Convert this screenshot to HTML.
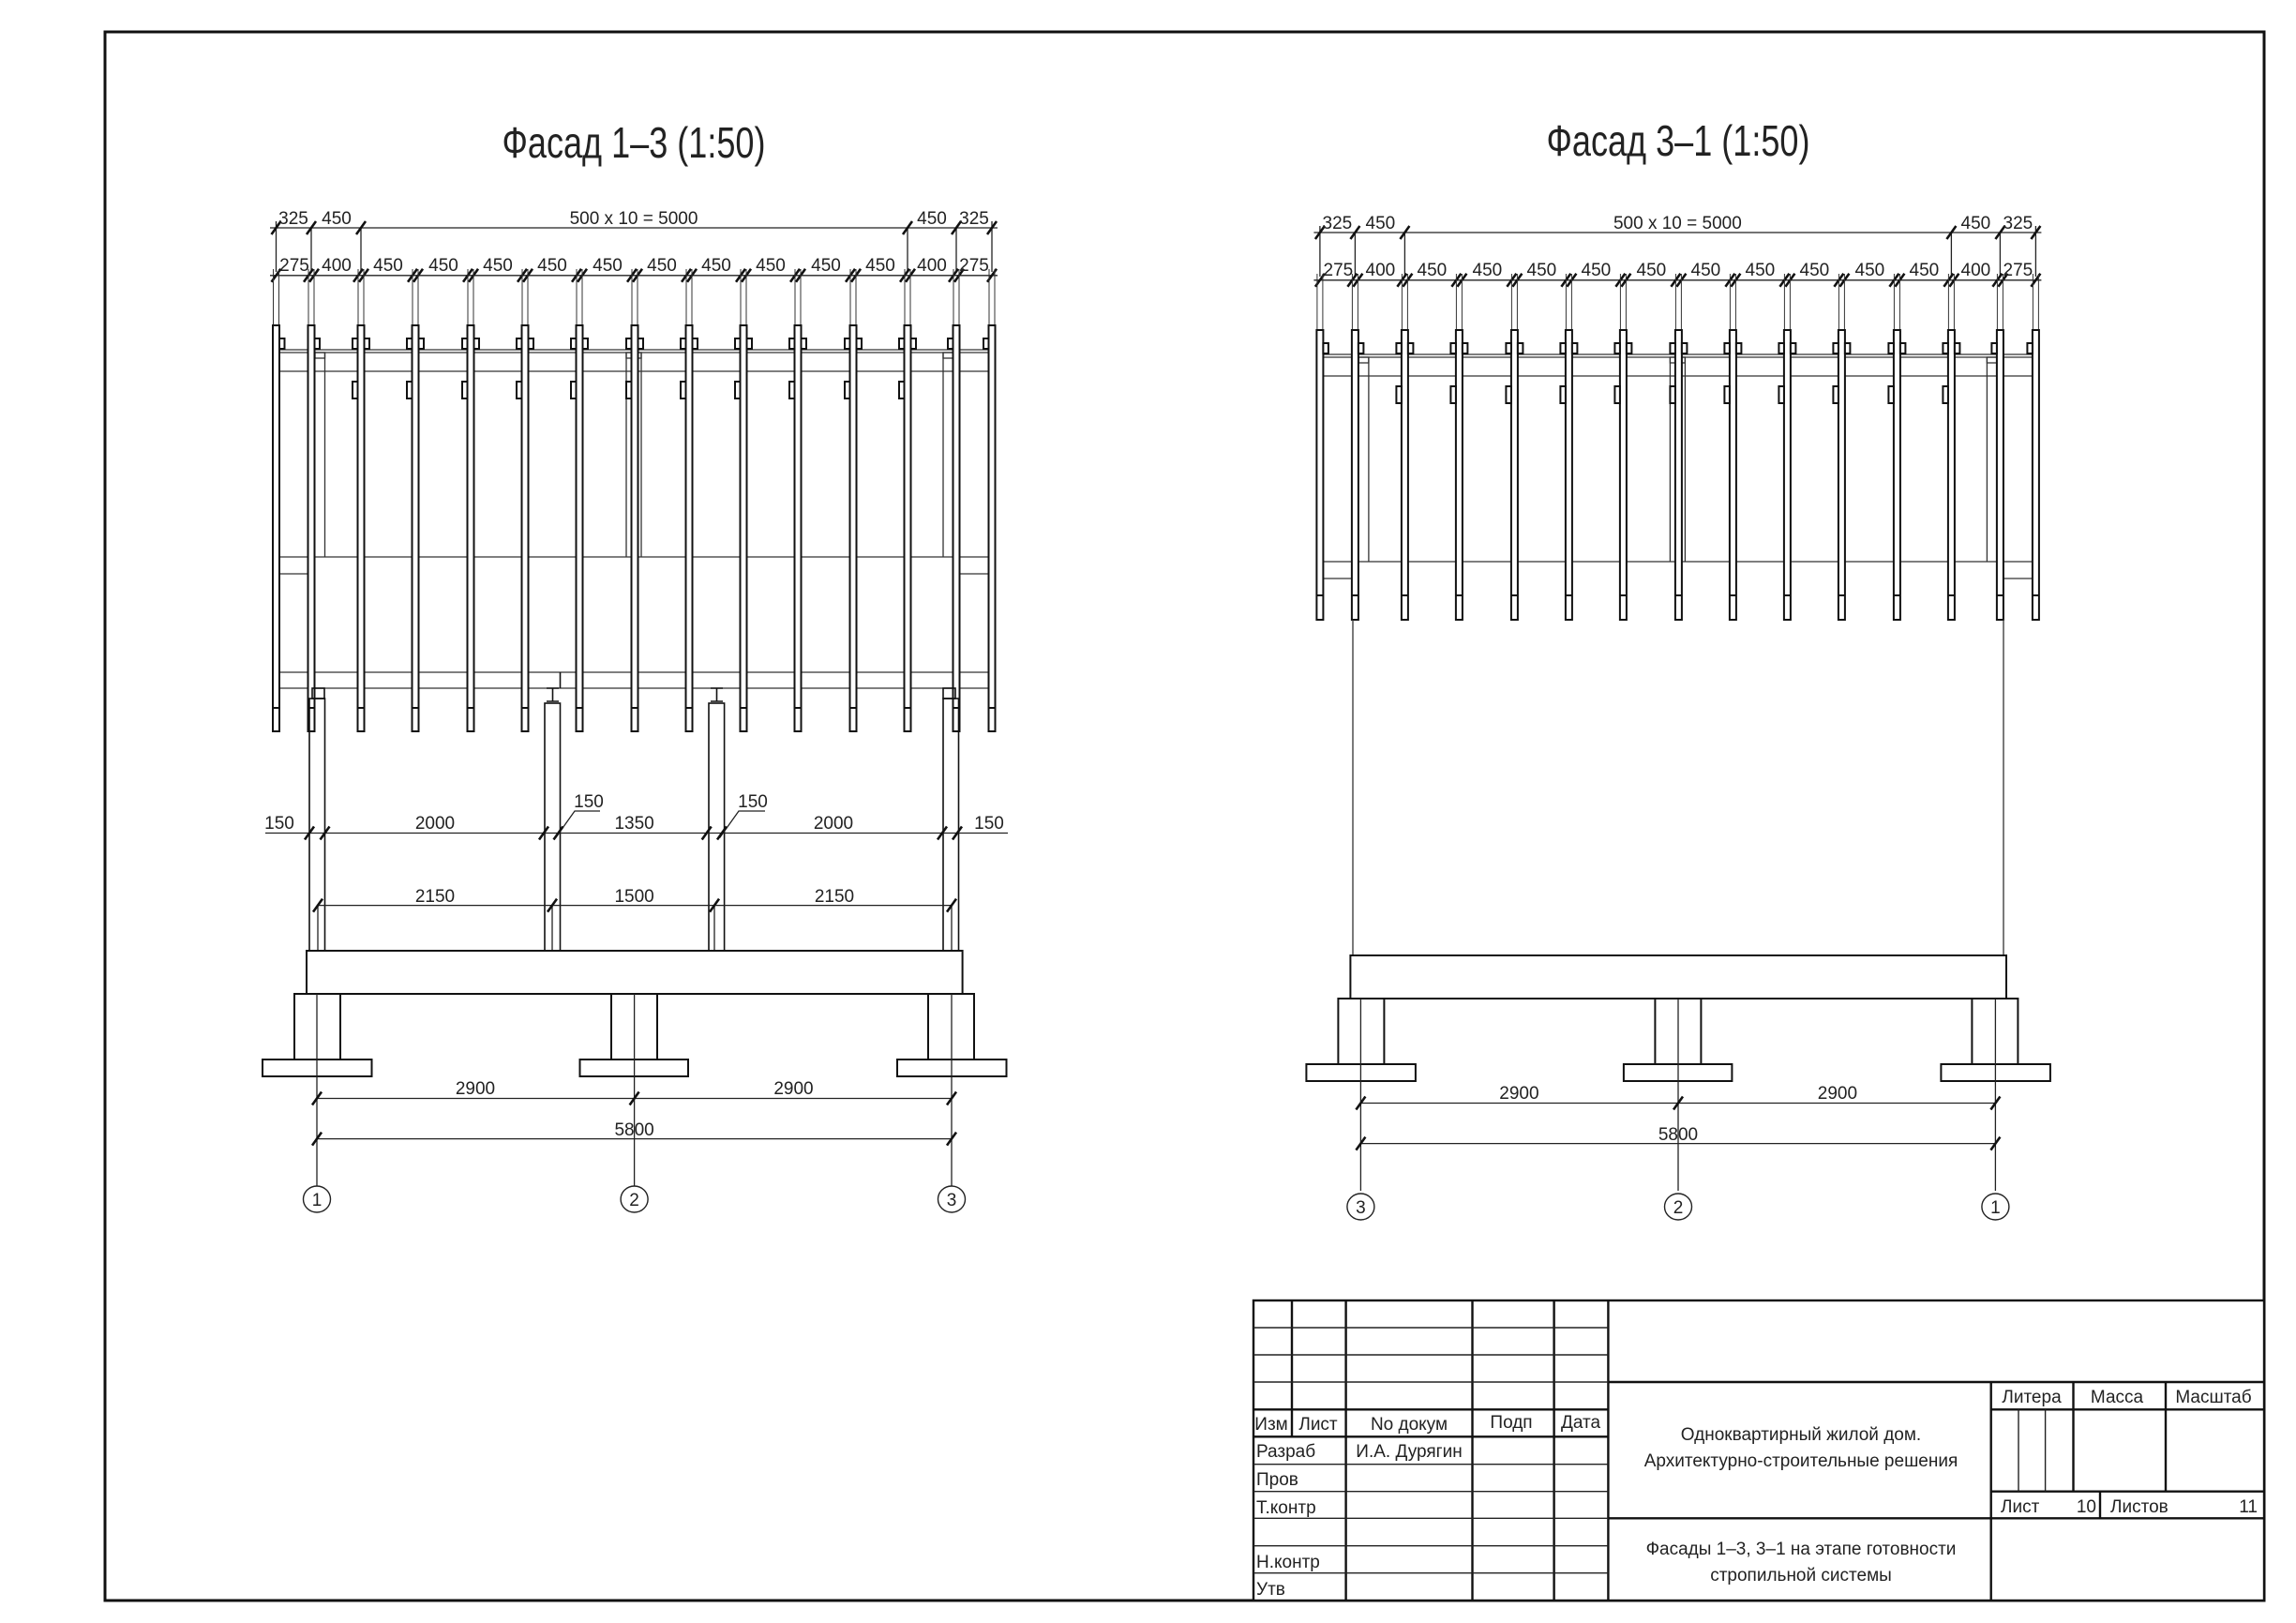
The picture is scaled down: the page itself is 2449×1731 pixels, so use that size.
<!DOCTYPE html>
<html><head><meta charset="utf-8"><style>
html,body{margin:0;padding:0;background:#fff}
svg{display:block}
text{font-family:"Liberation Sans Narrow","Liberation Sans",sans-serif;fill:#222}
</style></head><body>
<svg width="2449" height="1731" viewBox="0 0 2449 1731" xmlns="http://www.w3.org/2000/svg">
<defs>
<path id="tk" d="M-5,7 L5,-7" stroke="#111" stroke-width="2.6" fill="none"/>
<g id="ext" stroke="#333" stroke-width="1" fill="none"><line x1="-3" y1="287" x2="-3" y2="347"/><line x1="3" y1="287" x2="3" y2="347"/></g>
<rect id="bR" x="3.5" y="361" width="5.5" height="11" fill="#fff" stroke="#111" stroke-width="2"/>
<rect id="bL" x="-9" y="361" width="5.5" height="11" fill="#fff" stroke="#111" stroke-width="2"/>
<rect id="lr" x="-9" y="407" width="5.5" height="18" fill="#fff" stroke="#111" stroke-width="2"/>
<g id="rl" stroke="#111" stroke-width="2" fill="#fff"><rect x="-3.5" y="347" width="7" height="433"/><line x1="-3.5" y1="755" x2="3.5" y2="755"/></g>
<g id="rr" stroke="#111" stroke-width="2" fill="#fff"><rect x="-3.5" y="347" width="7" height="309"/><line x1="-3.5" y1="630" x2="3.5" y2="630"/></g>

<g id="roof">
 <g stroke="#333" stroke-width="1.3" fill="none">
  <line x1="291" y1="373" x2="1062" y2="373"/>
  <line x1="291" y1="376" x2="1062" y2="376"/>
  <line x1="291" y1="396" x2="1062" y2="396"/>
  <line x1="291" y1="594" x2="1062" y2="594"/>
  <line x1="298" y1="612" x2="330" y2="612"/>
  <line x1="1024" y1="612" x2="1056" y2="612"/>
  <line x1="346.5" y1="376" x2="346.5" y2="594"/>
  <line x1="668" y1="376" x2="668" y2="594"/>
  <line x1="684" y1="376" x2="684" y2="594"/>
  <line x1="1006" y1="376" x2="1006" y2="594"/>
  <rect x="336" y="376" width="10.5" height="6"/>
  <rect x="1006" y="376" width="10.5" height="6"/>
  <rect x="668" y="376" width="16" height="6"/>
 </g>
 <g stroke="#222" stroke-width="1.3">
  <line x1="288" y1="243" x2="1064" y2="243"/>
  <line x1="288" y1="293.8" x2="1064" y2="293.8"/>
  <line x1="332" y1="243" x2="332" y2="290"/>
  <line x1="385" y1="243" x2="385" y2="290"/>
  <line x1="968" y1="243" x2="968" y2="290"/>
  <line x1="1020" y1="243" x2="1020" y2="290"/>
  <line x1="294.5" y1="236" x2="294.5" y2="290"/>
  <line x1="1058" y1="236" x2="1058" y2="290"/>
 </g>
 <g>
  <use href="#tk" x="294.5" y="243"/><use href="#tk" x="332" y="243"/><use href="#tk" x="385" y="243"/>
  <use href="#tk" x="968" y="243"/><use href="#tk" x="1020" y="243"/><use href="#tk" x="1058" y="243"/>
  <use href="#tk" x="294.5" y="293.8"/>
  <use href="#tk" x="329" y="293.8"/><use href="#tk" x="335" y="293.8"/>
  <use href="#tk" x="382" y="293.8"/><use href="#tk" x="388" y="293.8"/>
  <use href="#tk" x="440" y="293.8"/><use href="#tk" x="446" y="293.8"/>
  <use href="#tk" x="499" y="293.8"/><use href="#tk" x="505" y="293.8"/>
  <use href="#tk" x="557" y="293.8"/><use href="#tk" x="563" y="293.8"/>
  <use href="#tk" x="615" y="293.8"/><use href="#tk" x="621" y="293.8"/>
  <use href="#tk" x="674" y="293.8"/><use href="#tk" x="680" y="293.8"/>
  <use href="#tk" x="732" y="293.8"/><use href="#tk" x="738" y="293.8"/>
  <use href="#tk" x="790" y="293.8"/><use href="#tk" x="796" y="293.8"/>
  <use href="#tk" x="848" y="293.8"/><use href="#tk" x="854" y="293.8"/>
  <use href="#tk" x="907" y="293.8"/><use href="#tk" x="913" y="293.8"/>
  <use href="#tk" x="965" y="293.8"/><use href="#tk" x="971" y="293.8"/>
  <use href="#tk" x="1017" y="293.8"/><use href="#tk" x="1023" y="293.8"/>
  <use href="#tk" x="1058" y="293.8"/>
 </g>
 <g font-size="19" text-anchor="middle">
  <text x="313" y="239">325</text><text x="359" y="239">450</text>
  <text x="676" y="239">500 x 10 = 5000</text>
  <text x="994" y="239">450</text><text x="1039" y="239">325</text>
  <text x="314" y="289">275</text><text x="359" y="289">400</text>
  <text x="414" y="289">450</text><text x="473" y="289">450</text><text x="531" y="289">450</text>
  <text x="589" y="289">450</text><text x="648" y="289">450</text><text x="706" y="289">450</text>
  <text x="764" y="289">450</text><text x="822" y="289">450</text><text x="881" y="289">450</text>
  <text x="939" y="289">450</text><text x="994" y="289">400</text><text x="1039" y="289">275</text>
 </g>
 <use href="#ext" x="294.5"/><use href="#ext" x="332"/><use href="#ext" x="385"/><use href="#ext" x="443"/>
 <use href="#ext" x="502"/><use href="#ext" x="560"/><use href="#ext" x="618"/><use href="#ext" x="677"/>
 <use href="#ext" x="735"/><use href="#ext" x="793"/><use href="#ext" x="851"/><use href="#ext" x="910"/>
 <use href="#ext" x="968"/><use href="#ext" x="1020"/><use href="#ext" x="1058"/>
</g>

<g id="blocks">
 <use href="#bR" x="294.5"/><use href="#bR" x="332"/>
 <use href="#bL" x="385"/><use href="#bR" x="385"/><use href="#bL" x="443"/><use href="#bR" x="443"/>
 <use href="#bL" x="502"/><use href="#bR" x="502"/><use href="#bL" x="560"/><use href="#bR" x="560"/>
 <use href="#bL" x="618"/><use href="#bR" x="618"/><use href="#bL" x="677"/><use href="#bR" x="677"/>
 <use href="#bL" x="735"/><use href="#bR" x="735"/><use href="#bL" x="793"/><use href="#bR" x="793"/>
 <use href="#bL" x="851"/><use href="#bR" x="851"/><use href="#bL" x="910"/><use href="#bR" x="910"/>
 <use href="#bL" x="968"/><use href="#bR" x="968"/>
 <use href="#bL" x="1020"/><use href="#bL" x="1058"/>
 <use href="#lr" x="385"/><use href="#lr" x="443"/><use href="#lr" x="502"/><use href="#lr" x="560"/>
 <use href="#lr" x="618"/><use href="#lr" x="677"/><use href="#lr" x="735"/><use href="#lr" x="793"/>
 <use href="#lr" x="851"/><use href="#lr" x="910"/><use href="#lr" x="968"/>
</g>

<g id="found">
 <g stroke="#111" stroke-width="2" fill="#fff">
  <rect x="327" y="1014" width="699.6" height="46"/>
  <rect x="314" y="1060" width="49" height="70"/>
  <rect x="652" y="1060" width="49" height="70"/>
  <rect x="990" y="1060" width="49" height="70"/>
  <rect x="280" y="1130" width="116.5" height="18"/>
  <rect x="618.5" y="1130" width="115.5" height="18"/>
  <rect x="957" y="1130" width="116.5" height="18"/>
 </g>
 <g stroke="#222" stroke-width="1.3">
  <line x1="338" y1="1060" x2="338" y2="1265"/>
  <line x1="676.6" y1="1060" x2="676.6" y2="1265"/>
  <line x1="1015" y1="1060" x2="1015" y2="1265"/>
  <line x1="338" y1="1171.5" x2="1015" y2="1171.5"/>
  <line x1="338" y1="1214.6" x2="1015" y2="1214.6"/>
 </g>
 <use href="#tk" x="338" y="1171.5"/><use href="#tk" x="676.6" y="1171.5"/><use href="#tk" x="1015" y="1171.5"/>
 <use href="#tk" x="338" y="1214.6"/><use href="#tk" x="1015" y="1214.6"/>
 <g font-size="19" text-anchor="middle">
  <text x="507" y="1167">2900</text><text x="846.5" y="1167">2900</text>
  <text x="676.6" y="1211">5800</text>
 </g>
</g>
</defs>

<rect x="112" y="34" width="2303" height="1673" fill="none" stroke="#111" stroke-width="3"/>

<text x="676" y="168" font-size="46" text-anchor="middle" textLength="281" lengthAdjust="spacingAndGlyphs">Фасад 1–3 (1:50)</text>
<text x="1790" y="166" font-size="46" text-anchor="middle" textLength="281" lengthAdjust="spacingAndGlyphs">Фасад 3–1 (1:50)</text>

<use href="#roof"/>
<g stroke="#333" stroke-width="1.3" fill="none">
 <line x1="291" y1="717" x2="1062" y2="717"/>
 <line x1="291" y1="734" x2="1062" y2="734"/>
</g>
<use href="#rl" x="294.5"/><use href="#rl" x="332"/><use href="#rl" x="385"/><use href="#rl" x="443"/>
<use href="#rl" x="502"/><use href="#rl" x="560"/><use href="#rl" x="618"/><use href="#rl" x="677"/>
<use href="#rl" x="735"/><use href="#rl" x="793"/><use href="#rl" x="851"/><use href="#rl" x="910"/>
<use href="#rl" x="968"/><use href="#rl" x="1020"/><use href="#rl" x="1058"/>
<use href="#blocks"/>
<g stroke="#111" stroke-width="1.6" fill="none">
 <rect x="330" y="745" width="16.5" height="269"/>
 <rect x="581" y="750" width="16.5" height="264"/>
 <rect x="756" y="750" width="16.6" height="264"/>
 <rect x="1006" y="745" width="16.5" height="269"/>
 <rect x="333" y="734" width="13" height="11"/>
 <rect x="1006" y="734" width="13" height="11"/>
 <path d="M583,734 h13 M589.5,734 v14 M583,748 h13 M758,734 h13 M764.5,734 v14 M758,748 h13"/>
 <line x1="597.5" y1="717" x2="597.5" y2="734"/>
</g>
<g stroke="#222" stroke-width="1.3" fill="none">
 <line x1="283" y1="888.5" x2="1075" y2="888.5"/>
 <line x1="339" y1="965.6" x2="1015" y2="965.6"/>
 <line x1="339" y1="965.6" x2="339" y2="1014"/>
 <line x1="589" y1="965.6" x2="589" y2="1014"/>
 <line x1="762" y1="965.6" x2="762" y2="1014"/>
 <line x1="1015" y1="965.6" x2="1015" y2="1014"/>
 <path d="M592.5,893.7 L613,865 H640"/>
 <path d="M767.5,893.7 L788,865 H816"/>
</g>
<use href="#tk" x="330" y="888.5"/><use href="#tk" x="346.5" y="888.5"/>
<use href="#tk" x="580" y="888.5"/><use href="#tk" x="595.5" y="888.5"/>
<use href="#tk" x="753.7" y="888.5"/><use href="#tk" x="770" y="888.5"/>
<use href="#tk" x="1005" y="888.5"/><use href="#tk" x="1021" y="888.5"/>
<use href="#tk" x="339" y="965.6"/><use href="#tk" x="589" y="965.6"/>
<use href="#tk" x="762" y="965.6"/><use href="#tk" x="1015" y="965.6"/>
<g font-size="19" text-anchor="middle">
 <text x="298" y="884">150</text><text x="464" y="884">2000</text><text x="676.6" y="884">1350</text>
 <text x="889" y="884">2000</text><text x="1055" y="884">150</text>
 <text x="628" y="861">150</text><text x="803" y="861">150</text>
 <text x="464" y="962">2150</text><text x="676.6" y="962">1500</text><text x="890" y="962">2150</text>
</g>
<use href="#found"/>
<g stroke="#222" stroke-width="1.4" fill="#fff">
 <ellipse cx="338" cy="1279" rx="14.5" ry="14"/>
 <ellipse cx="676.6" cy="1279" rx="14.5" ry="14"/>
 <ellipse cx="1015" cy="1279" rx="14.5" ry="14"/>
</g>
<g font-size="19" text-anchor="middle">
 <text x="338" y="1286">1</text><text x="676.6" y="1286">2</text><text x="1015" y="1286">3</text>
</g>

<g transform="translate(1113.4,5)">
 <use href="#roof"/>
 <use href="#rr" x="294.5"/><use href="#rr" x="332"/><use href="#rr" x="385"/><use href="#rr" x="443"/>
 <use href="#rr" x="502"/><use href="#rr" x="560"/><use href="#rr" x="618"/><use href="#rr" x="677"/>
 <use href="#rr" x="735"/><use href="#rr" x="793"/><use href="#rr" x="851"/><use href="#rr" x="910"/>
 <use href="#rr" x="968"/><use href="#rr" x="1020"/><use href="#rr" x="1058"/>
 <use href="#blocks"/>
 <g stroke="#333" stroke-width="1.3">
  <line x1="329.6" y1="656" x2="329.6" y2="1014"/>
  <line x1="1023.6" y1="656" x2="1023.6" y2="1014"/>
 </g>
 <use href="#found"/>
 <g stroke="#222" stroke-width="1.4" fill="#fff">
  <ellipse cx="338" cy="1282" rx="14.5" ry="14"/>
  <ellipse cx="676.6" cy="1282" rx="14.5" ry="14"/>
  <ellipse cx="1015" cy="1282" rx="14.5" ry="14"/>
 </g>
 <g font-size="19" text-anchor="middle">
  <text x="338" y="1289">3</text><text x="676.6" y="1289">2</text><text x="1015" y="1289">1</text>
 </g>
</g>

<g stroke="#111" stroke-width="2.4" fill="none">
 <rect x="1337" y="1387" width="1078" height="320" fill="#fff"/>
 <line x1="1378" y1="1387" x2="1378" y2="1532"/>
 <line x1="1435.6" y1="1387" x2="1435.6" y2="1707"/>
 <line x1="1570.5" y1="1387" x2="1570.5" y2="1707"/>
 <line x1="1657.6" y1="1387" x2="1657.6" y2="1707"/>
 <line x1="1715.4" y1="1387" x2="1715.4" y2="1707"/>
 <line x1="1337" y1="1503.3" x2="1715.4" y2="1503.3"/>
 <line x1="1337" y1="1532.3" x2="1715.4" y2="1532.3"/>
 <line x1="1715.4" y1="1474" x2="2415" y2="1474"/>
 <line x1="1715.4" y1="1619.3" x2="2415" y2="1619.3"/>
 <line x1="2123.7" y1="1474" x2="2123.7" y2="1707"/>
 <line x1="2123.7" y1="1503.3" x2="2415" y2="1503.3"/>
 <line x1="2123.7" y1="1590.7" x2="2415" y2="1590.7"/>
 <line x1="2211.5" y1="1474" x2="2211.5" y2="1590.7"/>
 <line x1="2310" y1="1474" x2="2310" y2="1590.7"/>
 <line x1="2240" y1="1590.7" x2="2240" y2="1619.3"/>
</g>
<g stroke="#222" stroke-width="1.4">
 <line x1="1337" y1="1416" x2="1715.4" y2="1416"/>
 <line x1="1337" y1="1445" x2="1715.4" y2="1445"/>
 <line x1="1337" y1="1474" x2="1715.4" y2="1474"/>
 <line x1="1337" y1="1561.7" x2="1715.4" y2="1561.7"/>
 <line x1="1337" y1="1590.7" x2="1715.4" y2="1590.7"/>
 <line x1="1337" y1="1619.3" x2="1715.4" y2="1619.3"/>
 <line x1="1337" y1="1648.7" x2="1715.4" y2="1648.7"/>
 <line x1="1337" y1="1677.7" x2="1715.4" y2="1677.7"/>
 <line x1="2153" y1="1503.3" x2="2153" y2="1590.7"/>
 <line x1="2181.6" y1="1503.3" x2="2181.6" y2="1590.7"/>
</g>
<g font-size="19">
 <text x="1356" y="1525" text-anchor="middle">Изм</text>
 <text x="1406" y="1525" text-anchor="middle">Лист</text>
 <text x="1503" y="1525" text-anchor="middle">No докум</text>
 <text x="1612" y="1523" text-anchor="middle">Подп</text>
 <text x="1686" y="1523" text-anchor="middle">Дата</text>
 <text x="1340" y="1554">Разраб</text>
 <text x="1503" y="1554" text-anchor="middle">И.А. Дурягин</text>
 <text x="1340" y="1584">Пров</text>
 <text x="1340" y="1614">Т.контр</text>
 <text x="1340" y="1672">Н.контр</text>
 <text x="1340" y="1701">Утв</text>
 <text x="1921" y="1536" text-anchor="middle">Одноквартирный жилой дом.</text>
 <text x="1921" y="1564" text-anchor="middle">Архитектурно-строительные решения</text>
 <text x="2167" y="1496" text-anchor="middle">Литера</text>
 <text x="2258" y="1496" text-anchor="middle">Масса</text>
 <text x="2361" y="1496" text-anchor="middle">Масштаб</text>
 <text x="2134" y="1613">Лист</text>
 <text x="2236" y="1613" text-anchor="end">10</text>
 <text x="2251" y="1613">Листов</text>
 <text x="2408" y="1613" text-anchor="end">11</text>
 <text x="1921" y="1658" text-anchor="middle">Фасады 1–3, 3–1 на этапе готовности</text>
 <text x="1921" y="1686" text-anchor="middle">стропильной системы</text>
</g>
</svg>
</body></html>
